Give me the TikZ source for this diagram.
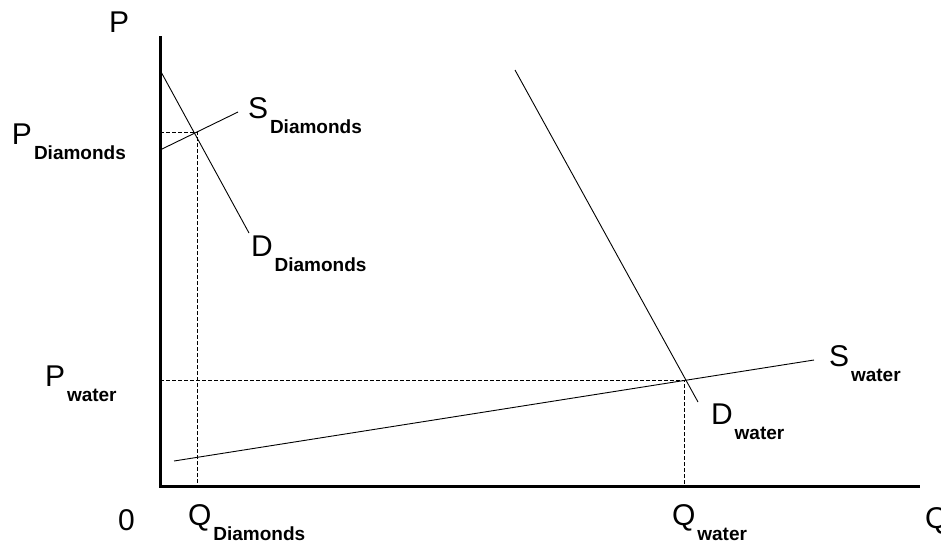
\documentclass[tikz,border=0pt]{standalone}
\usepackage{fontspec}
\setmainfont{Liberation Sans}
\usetikzlibrary{positioning}

\newcommand{\bigletter}{\fontsize{30}{30}\selectfont}
\newcommand{\subletter}{\fontsize{19}{19}\selectfont\bfseries}
\newcommand{\axislabel}[2]{{\bigletter #1}\kern2pt\raisebox{-15pt}{\subletter #2}}

\begin{document}
\begin{tikzpicture}[
    x=1pt, y=-1pt,
    axis/.style={line width=3pt},
    curve/.style={line width=0.9pt},
    guide/.style={line width=0.9pt, dash pattern=on 4pt off 2pt},
    lbl/.style={anchor=base west, inner sep=0pt, outer sep=0pt}
]
  \useasboundingbox (0,0) rectangle (941,544);

  % Points
  \coordinate (origin) at (160,486);
  \coordinate (ytop) at (160,36);
  \coordinate (xend) at (920,486);
  \coordinate (dd1) at (160,70);
  \coordinate (dd2) at (249,233);
  \coordinate (sd1) at (160,150);
  \coordinate (sd2) at (238,112);
  \coordinate (eqd) at (197,132);
  \coordinate (dw1) at (515,70);
  \coordinate (dw2) at (698,402);
  \coordinate (sw1) at (174,461);
  \coordinate (sw2) at (814,360);
  \coordinate (eqw) at (684,380);

  % Axes
  \draw[axis] (ytop) -- (origin) -- (xend);

  % Curves
  \draw[curve] (dd1) -- (dd2);
  \draw[curve] (sd1) -- (sd2);
  \draw[curve] (dw1) -- (dw2);
  \draw[curve] (sw1) -- (sw2);

  % Guides
  \draw[guide] (eqd -| origin) -- (eqd) -- (eqd |- origin);
  \draw[guide] (eqw -| origin) -- (eqw) -- (eqw |- origin);

  % Labels
  \node[lbl] (pAxis) at (109,32) {\bigletter P};
  \node[lbl] (qAxis) at (925,528) {\bigletter Q};
  \node[lbl] (zero) at (118,530) {\bigletter 0};
  \node[lbl] (pDiam) at (12,144) {\axislabel{P}{Diamonds}};
  \node[lbl] (sDiam) at (248,118) {\axislabel{S}{Diamonds}};
  \node[lbl] (dDiam) at (251,256) {\axislabel{D}{Diamonds}};
  \node[lbl] (pWater) at (45,386) {\axislabel{P}{water}};
  \node[lbl] (sWater) at (829,366) {\axislabel{S}{water}};
  \node[lbl] (dWater) at (711,424) {\axislabel{D}{water}};
  \node[lbl] (qDiam) at (188,525) {\axislabel{Q}{Diamonds}};
  \node[lbl] (qWater) at (672,525) {\axislabel{Q}{water}};

\end{tikzpicture}
\end{document}
